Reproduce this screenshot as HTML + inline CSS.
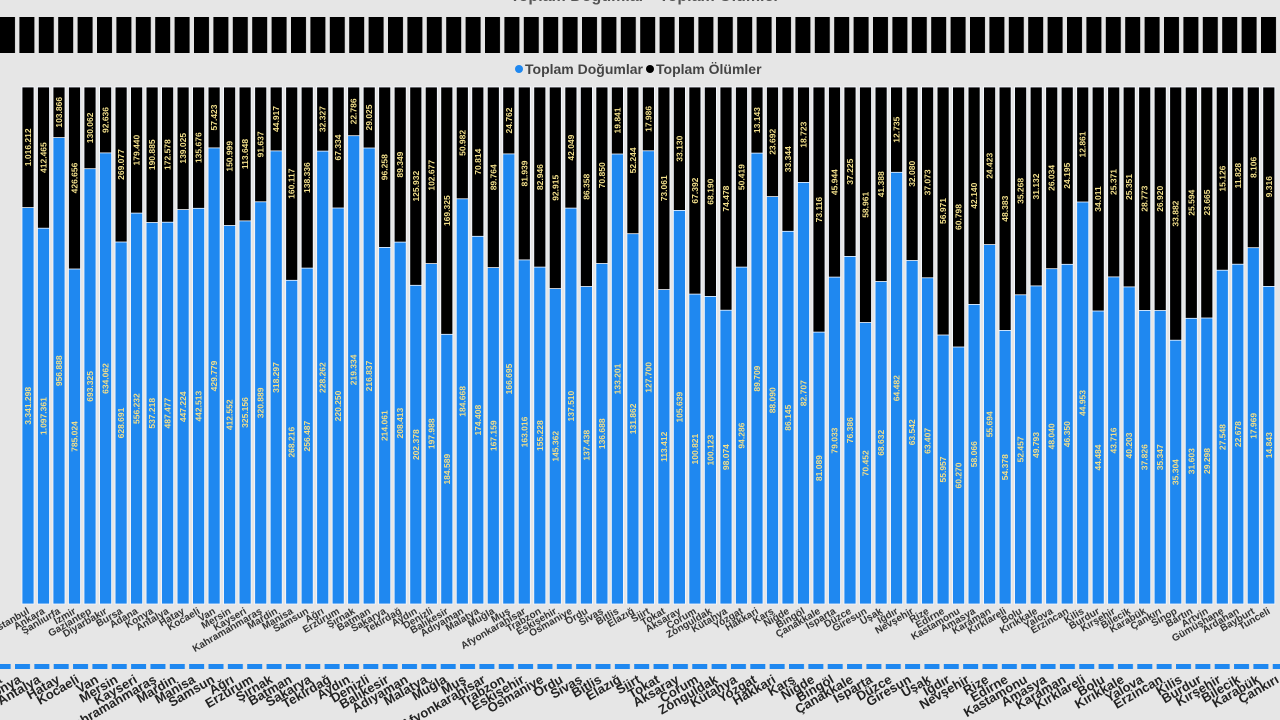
<!DOCTYPE html>
<html><head><meta charset="utf-8"><style>
html,body{margin:0;padding:0;background:#e6e6e6;width:1280px;height:720px;overflow:hidden}
svg{display:block;font-family:"Liberation Sans",sans-serif}
.bb{fill:#1f88f0;width:12px;height:517px;y:87px;stroke:#f4f8ff;stroke-width:.8}
.k{fill:#000;width:12px;y:87px;stroke:#f4f8ff;stroke-width:.8}
.v{fill:#f2df8a;font-size:8.5px;font-weight:bold;text-anchor:middle;dominant-baseline:central}
.x{fill:#333;font-size:10px;font-weight:bold;text-anchor:end}
.y{fill:#222;font-size:13px;font-weight:bold;text-anchor:end}
</style></head><body>
<svg width="1280" height="720" viewBox="0 0 1280 720">
<defs>
<pattern id="tp" patternUnits="userSpaceOnUse" x="0" y="0" width="19.4" height="720"><rect x="0" y="17" width="15" height="36" fill="#000"/></pattern>
<pattern id="bp" patternUnits="userSpaceOnUse" x="15" y="0" width="19.35" height="720"><rect x="0" y="664" width="15" height="5" fill="#1f88f0"/></pattern>
</defs>
<text x="640" y="1" text-anchor="middle" font-size="16" font-weight="bold" fill="#555"><tspan fill="#1f88f0">●</tspan>Toplam Doğumlar <tspan fill="#000">●</tspan>Toplam Ölümler</text>
<rect x="0" y="17" width="1280" height="36" fill="url(#tp)"/>
<rect x="0" y="664" width="1280" height="5" fill="url(#bp)"/>
<circle cx="519" cy="69" r="4" fill="#1f88f0"/>
<text x="525" y="74" font-size="14" font-weight="bold" fill="#444">Toplam Doğumlar</text>
<circle cx="650" cy="69" r="4" fill="#000"/>
<text x="656" y="74" font-size="14" font-weight="bold" fill="#444">Toplam Ölümler</text>

<g transform="translate(22,0)"><rect class="bb"/><rect class="k" height="120.6"/><text class="v" transform="translate(6,147.3)rotate(-90)">1.016.212</text><text class="v" transform="translate(6,405.8)rotate(-90)">3.341.298</text><text class="x" transform="translate(8,613)rotate(-30)">İstanbul</text></g>
<g transform="translate(37.5,0)"><rect class="bb"/><rect class="k" height="141.2"/><text class="v" transform="translate(6,157.6)rotate(-90)">412.465</text><text class="v" transform="translate(6,416.1)rotate(-90)">1.097.361</text><text class="x" transform="translate(8,613)rotate(-30)">Ankara</text></g>
<g transform="translate(53,0)"><rect class="bb"/><rect class="k" height="50.6"/><text class="v" transform="translate(6,112.3)rotate(-90)">103.866</text><text class="v" transform="translate(6,370.8)rotate(-90)">956.888</text><text class="x" transform="translate(8,613)rotate(-30)">Şanlıurfa</text></g>
<g transform="translate(68.5,0)"><rect class="bb"/><rect class="k" height="182"/><text class="v" transform="translate(6,178)rotate(-90)">426.656</text><text class="v" transform="translate(6,436.5)rotate(-90)">785.024</text><text class="x" transform="translate(8,613)rotate(-30)">İzmir</text></g>
<g transform="translate(84,0)"><rect class="bb"/><rect class="k" height="81.7"/><text class="v" transform="translate(6,127.9)rotate(-90)">130.062</text><text class="v" transform="translate(6,386.4)rotate(-90)">693.325</text><text class="x" transform="translate(8,613)rotate(-30)">Gaziantep</text></g>
<g transform="translate(99.6,0)"><rect class="bb"/><rect class="k" height="65.9"/><text class="v" transform="translate(6,120)rotate(-90)">92.636</text><text class="v" transform="translate(6,378.5)rotate(-90)">634.062</text><text class="x" transform="translate(8,613)rotate(-30)">Diyarbakır</text></g>
<g transform="translate(115.1,0)"><rect class="bb"/><rect class="k" height="155"/><text class="v" transform="translate(6,164.5)rotate(-90)">269.077</text><text class="v" transform="translate(6,423)rotate(-90)">628.691</text><text class="x" transform="translate(8,613)rotate(-30)">Bursa</text></g>
<g transform="translate(130.6,0)"><rect class="bb"/><rect class="k" height="126.1"/><text class="v" transform="translate(6,150.1)rotate(-90)">179.440</text><text class="v" transform="translate(6,408.6)rotate(-90)">556.232</text><text class="x" transform="translate(8,613)rotate(-30)">Adana</text></g>
<g transform="translate(146.1,0)"><rect class="bb"/><rect class="k" height="135.5"/><text class="v" transform="translate(6,154.8)rotate(-90)">190.885</text><text class="v" transform="translate(6,413.3)rotate(-90)">537.218</text><text class="x" transform="translate(8,613)rotate(-30)">Konya</text></g>
<g transform="translate(161.6,0)"><rect class="bb"/><rect class="k" height="135.2"/><text class="v" transform="translate(6,154.6)rotate(-90)">172.578</text><text class="v" transform="translate(6,413.1)rotate(-90)">487.477</text><text class="x" transform="translate(8,613)rotate(-30)">Antalya</text></g>
<g transform="translate(177.1,0)"><rect class="bb"/><rect class="k" height="122.6"/><text class="v" transform="translate(6,148.3)rotate(-90)">139.025</text><text class="v" transform="translate(6,406.8)rotate(-90)">447.224</text><text class="x" transform="translate(8,613)rotate(-30)">Hatay</text></g>
<g transform="translate(192.6,0)"><rect class="bb"/><rect class="k" height="121.3"/><text class="v" transform="translate(6,147.7)rotate(-90)">135.676</text><text class="v" transform="translate(6,406.2)rotate(-90)">442.513</text><text class="x" transform="translate(8,613)rotate(-30)">Kocaeli</text></g>
<g transform="translate(208.1,0)"><rect class="bb"/><rect class="k" height="60.9"/><text class="v" transform="translate(6,117.5)rotate(-90)">57.423</text><text class="v" transform="translate(6,376)rotate(-90)">429.779</text><text class="x" transform="translate(8,613)rotate(-30)">Van</text></g>
<g transform="translate(223.6,0)"><rect class="bb"/><rect class="k" height="138.5"/><text class="v" transform="translate(6,156.3)rotate(-90)">150.999</text><text class="v" transform="translate(6,414.8)rotate(-90)">412.552</text><text class="x" transform="translate(8,613)rotate(-30)">Mersin</text></g>
<g transform="translate(239.1,0)"><rect class="bb"/><rect class="k" height="133.9"/><text class="v" transform="translate(6,154)rotate(-90)">113.648</text><text class="v" transform="translate(6,412.5)rotate(-90)">325.156</text><text class="x" transform="translate(8,613)rotate(-30)">Kayseri</text></g>
<g transform="translate(254.7,0)"><rect class="bb"/><rect class="k" height="114.8"/><text class="v" transform="translate(6,144.4)rotate(-90)">91.637</text><text class="v" transform="translate(6,402.9)rotate(-90)">320.889</text><text class="x" transform="translate(8,613)rotate(-30)">Kahramanmaraş</text></g>
<g transform="translate(270.2,0)"><rect class="bb"/><rect class="k" height="63.9"/><text class="v" transform="translate(6,119)rotate(-90)">44.917</text><text class="v" transform="translate(6,377.5)rotate(-90)">318.297</text><text class="x" transform="translate(8,613)rotate(-30)">Mardin</text></g>
<g transform="translate(285.7,0)"><rect class="bb"/><rect class="k" height="193.3"/><text class="v" transform="translate(6,183.7)rotate(-90)">160.117</text><text class="v" transform="translate(6,442.2)rotate(-90)">268.216</text><text class="x" transform="translate(8,613)rotate(-30)">Manisa</text></g>
<g transform="translate(301.2,0)"><rect class="bb"/><rect class="k" height="181.1"/><text class="v" transform="translate(6,177.6)rotate(-90)">138.336</text><text class="v" transform="translate(6,436.1)rotate(-90)">256.487</text><text class="x" transform="translate(8,613)rotate(-30)">Samsun</text></g>
<g transform="translate(316.7,0)"><rect class="bb"/><rect class="k" height="64.1"/><text class="v" transform="translate(6,119.1)rotate(-90)">32.327</text><text class="v" transform="translate(6,377.6)rotate(-90)">228.262</text><text class="x" transform="translate(8,613)rotate(-30)">Ağrı</text></g>
<g transform="translate(332.2,0)"><rect class="bb"/><rect class="k" height="121"/><text class="v" transform="translate(6,147.5)rotate(-90)">67.334</text><text class="v" transform="translate(6,406)rotate(-90)">220.250</text><text class="x" transform="translate(8,613)rotate(-30)">Erzurum</text></g>
<g transform="translate(347.7,0)"><rect class="bb"/><rect class="k" height="48.7"/><text class="v" transform="translate(6,111.4)rotate(-90)">22.786</text><text class="v" transform="translate(6,369.9)rotate(-90)">219.334</text><text class="x" transform="translate(8,613)rotate(-30)">Şırnak</text></g>
<g transform="translate(363.2,0)"><rect class="bb"/><rect class="k" height="61"/><text class="v" transform="translate(6,117.5)rotate(-90)">29.025</text><text class="v" transform="translate(6,376)rotate(-90)">216.837</text><text class="x" transform="translate(8,613)rotate(-30)">Batman</text></g>
<g transform="translate(378.7,0)"><rect class="bb"/><rect class="k" height="160.4"/><text class="v" transform="translate(6,167.2)rotate(-90)">96.258</text><text class="v" transform="translate(6,425.7)rotate(-90)">214.061</text><text class="x" transform="translate(8,613)rotate(-30)">Sakarya</text></g>
<g transform="translate(394.2,0)"><rect class="bb"/><rect class="k" height="155.1"/><text class="v" transform="translate(6,164.6)rotate(-90)">89.349</text><text class="v" transform="translate(6,423.1)rotate(-90)">208.413</text><text class="x" transform="translate(8,613)rotate(-30)">Tekirdağ</text></g>
<g transform="translate(409.8,0)"><rect class="bb"/><rect class="k" height="198.3"/><text class="v" transform="translate(6,186.2)rotate(-90)">125.932</text><text class="v" transform="translate(6,444.7)rotate(-90)">202.378</text><text class="x" transform="translate(8,613)rotate(-30)">Aydın</text></g>
<g transform="translate(425.3,0)"><rect class="bb"/><rect class="k" height="176.6"/><text class="v" transform="translate(6,175.3)rotate(-90)">102.677</text><text class="v" transform="translate(6,433.8)rotate(-90)">197.988</text><text class="x" transform="translate(8,613)rotate(-30)">Denizli</text></g>
<g transform="translate(440.8,0)"><rect class="bb"/><rect class="k" height="247.3"/><text class="v" transform="translate(6,210.7)rotate(-90)">169.325</text><text class="v" transform="translate(6,469.2)rotate(-90)">184.589</text><text class="x" transform="translate(8,613)rotate(-30)">Balıkesir</text></g>
<g transform="translate(456.3,0)"><rect class="bb"/><rect class="k" height="111.8"/><text class="v" transform="translate(6,142.9)rotate(-90)">50.982</text><text class="v" transform="translate(6,401.4)rotate(-90)">184.668</text><text class="x" transform="translate(8,613)rotate(-30)">Adıyaman</text></g>
<g transform="translate(471.8,0)"><rect class="bb"/><rect class="k" height="149.3"/><text class="v" transform="translate(6,161.7)rotate(-90)">70.814</text><text class="v" transform="translate(6,420.2)rotate(-90)">174.408</text><text class="x" transform="translate(8,613)rotate(-30)">Malatya</text></g>
<g transform="translate(487.3,0)"><rect class="bb"/><rect class="k" height="180.6"/><text class="v" transform="translate(6,177.3)rotate(-90)">89.764</text><text class="v" transform="translate(6,435.8)rotate(-90)">167.159</text><text class="x" transform="translate(8,613)rotate(-30)">Muğla</text></g>
<g transform="translate(502.8,0)"><rect class="bb"/><rect class="k" height="66.9"/><text class="v" transform="translate(6,120.5)rotate(-90)">24.762</text><text class="v" transform="translate(6,379)rotate(-90)">166.695</text><text class="x" transform="translate(8,613)rotate(-30)">Muş</text></g>
<g transform="translate(518.3,0)"><rect class="bb"/><rect class="k" height="172.9"/><text class="v" transform="translate(6,173.5)rotate(-90)">81.939</text><text class="v" transform="translate(6,432)rotate(-90)">163.016</text><text class="x" transform="translate(8,613)rotate(-30)">Afyonkarahisar</text></g>
<g transform="translate(533.8,0)"><rect class="bb"/><rect class="k" height="180.1"/><text class="v" transform="translate(6,177.1)rotate(-90)">82.946</text><text class="v" transform="translate(6,435.6)rotate(-90)">155.228</text><text class="x" transform="translate(8,613)rotate(-30)">Trabzon</text></g>
<g transform="translate(549.3,0)"><rect class="bb"/><rect class="k" height="201.6"/><text class="v" transform="translate(6,187.8)rotate(-90)">92.915</text><text class="v" transform="translate(6,446.3)rotate(-90)">145.362</text><text class="x" transform="translate(8,613)rotate(-30)">Eskişehir</text></g>
<g transform="translate(564.9,0)"><rect class="bb"/><rect class="k" height="121.1"/><text class="v" transform="translate(6,147.6)rotate(-90)">42.049</text><text class="v" transform="translate(6,406.1)rotate(-90)">137.510</text><text class="x" transform="translate(8,613)rotate(-30)">Osmaniye</text></g>
<g transform="translate(580.4,0)"><rect class="bb"/><rect class="k" height="199.5"/><text class="v" transform="translate(6,186.8)rotate(-90)">86.358</text><text class="v" transform="translate(6,445.3)rotate(-90)">137.438</text><text class="x" transform="translate(8,613)rotate(-30)">Ordu</text></g>
<g transform="translate(595.9,0)"><rect class="bb"/><rect class="k" height="176.5"/><text class="v" transform="translate(6,175.3)rotate(-90)">70.850</text><text class="v" transform="translate(6,433.8)rotate(-90)">136.688</text><text class="x" transform="translate(8,613)rotate(-30)">Sivas</text></g>
<g transform="translate(611.4,0)"><rect class="bb"/><rect class="k" height="67"/><text class="v" transform="translate(6,120.5)rotate(-90)">19.841</text><text class="v" transform="translate(6,379)rotate(-90)">133.201</text><text class="x" transform="translate(8,613)rotate(-30)">Bitlis</text></g>
<g transform="translate(626.9,0)"><rect class="bb"/><rect class="k" height="146.7"/><text class="v" transform="translate(6,160.4)rotate(-90)">52.244</text><text class="v" transform="translate(6,418.9)rotate(-90)">131.862</text><text class="x" transform="translate(8,613)rotate(-30)">Elazığ</text></g>
<g transform="translate(642.4,0)"><rect class="bb"/><rect class="k" height="63.8"/><text class="v" transform="translate(6,118.9)rotate(-90)">17.986</text><text class="v" transform="translate(6,377.4)rotate(-90)">127.700</text><text class="x" transform="translate(8,613)rotate(-30)">Siirt</text></g>
<g transform="translate(657.9,0)"><rect class="bb"/><rect class="k" height="202.6"/><text class="v" transform="translate(6,188.3)rotate(-90)">73.061</text><text class="v" transform="translate(6,446.8)rotate(-90)">113.412</text><text class="x" transform="translate(8,613)rotate(-30)">Tokat</text></g>
<g transform="translate(673.4,0)"><rect class="bb"/><rect class="k" height="123.4"/><text class="v" transform="translate(6,148.7)rotate(-90)">33.130</text><text class="v" transform="translate(6,407.2)rotate(-90)">105.639</text><text class="x" transform="translate(8,613)rotate(-30)">Aksaray</text></g>
<g transform="translate(688.9,0)"><rect class="bb"/><rect class="k" height="207.1"/><text class="v" transform="translate(6,190.6)rotate(-90)">67.392</text><text class="v" transform="translate(6,449.1)rotate(-90)">100.821</text><text class="x" transform="translate(8,613)rotate(-30)">Çorum</text></g>
<g transform="translate(704.4,0)"><rect class="bb"/><rect class="k" height="209.4"/><text class="v" transform="translate(6,191.7)rotate(-90)">68.190</text><text class="v" transform="translate(6,450.2)rotate(-90)">100.123</text><text class="x" transform="translate(8,613)rotate(-30)">Zonguldak</text></g>
<g transform="translate(720,0)"><rect class="bb"/><rect class="k" height="223.2"/><text class="v" transform="translate(6,198.6)rotate(-90)">74.478</text><text class="v" transform="translate(6,457.1)rotate(-90)">98.074</text><text class="x" transform="translate(8,613)rotate(-30)">Kütahya</text></g>
<g transform="translate(735.5,0)"><rect class="bb"/><rect class="k" height="180.1"/><text class="v" transform="translate(6,177.1)rotate(-90)">50.419</text><text class="v" transform="translate(6,435.6)rotate(-90)">94.286</text><text class="x" transform="translate(8,613)rotate(-30)">Yozgat</text></g>
<g transform="translate(751,0)"><rect class="bb"/><rect class="k" height="66.1"/><text class="v" transform="translate(6,120.1)rotate(-90)">13.143</text><text class="v" transform="translate(6,378.6)rotate(-90)">89.709</text><text class="x" transform="translate(8,613)rotate(-30)">Hakkari</text></g>
<g transform="translate(766.5,0)"><rect class="bb"/><rect class="k" height="109.6"/><text class="v" transform="translate(6,141.8)rotate(-90)">23.692</text><text class="v" transform="translate(6,400.3)rotate(-90)">88.090</text><text class="x" transform="translate(8,613)rotate(-30)">Kars</text></g>
<g transform="translate(782,0)"><rect class="bb"/><rect class="k" height="144.3"/><text class="v" transform="translate(6,159.2)rotate(-90)">33.344</text><text class="v" transform="translate(6,417.7)rotate(-90)">86.145</text><text class="x" transform="translate(8,613)rotate(-30)">Niğde</text></g>
<g transform="translate(797.5,0)"><rect class="bb"/><rect class="k" height="95.4"/><text class="v" transform="translate(6,134.7)rotate(-90)">18.723</text><text class="v" transform="translate(6,393.2)rotate(-90)">82.707</text><text class="x" transform="translate(8,613)rotate(-30)">Bingöl</text></g>
<g transform="translate(813,0)"><rect class="bb"/><rect class="k" height="245.1"/><text class="v" transform="translate(6,209.6)rotate(-90)">73.116</text><text class="v" transform="translate(6,468.1)rotate(-90)">81.089</text><text class="x" transform="translate(8,613)rotate(-30)">Çanakkale</text></g>
<g transform="translate(828.5,0)"><rect class="bb"/><rect class="k" height="190.1"/><text class="v" transform="translate(6,182.1)rotate(-90)">45.944</text><text class="v" transform="translate(6,440.6)rotate(-90)">79.033</text><text class="x" transform="translate(8,613)rotate(-30)">Isparta</text></g>
<g transform="translate(844,0)"><rect class="bb"/><rect class="k" height="169.4"/><text class="v" transform="translate(6,171.7)rotate(-90)">37.225</text><text class="v" transform="translate(6,430.2)rotate(-90)">76.386</text><text class="x" transform="translate(8,613)rotate(-30)">Düzce</text></g>
<g transform="translate(859.5,0)"><rect class="bb"/><rect class="k" height="235.5"/><text class="v" transform="translate(6,204.8)rotate(-90)">58.961</text><text class="v" transform="translate(6,463.3)rotate(-90)">70.452</text><text class="x" transform="translate(8,613)rotate(-30)">Giresun</text></g>
<g transform="translate(875.1,0)"><rect class="bb"/><rect class="k" height="194.5"/><text class="v" transform="translate(6,184.3)rotate(-90)">41.388</text><text class="v" transform="translate(6,442.8)rotate(-90)">68.632</text><text class="x" transform="translate(8,613)rotate(-30)">Uşak</text></g>
<g transform="translate(890.6,0)"><rect class="bb"/><rect class="k" height="85.3"/><text class="v" transform="translate(6,129.7)rotate(-90)">12.735</text><text class="v" transform="translate(6,388.2)rotate(-90)">64.482</text><text class="x" transform="translate(8,613)rotate(-30)">Iğdır</text></g>
<g transform="translate(906.1,0)"><rect class="bb"/><rect class="k" height="173.5"/><text class="v" transform="translate(6,173.8)rotate(-90)">32.080</text><text class="v" transform="translate(6,432.3)rotate(-90)">63.542</text><text class="x" transform="translate(8,613)rotate(-30)">Nevşehir</text></g>
<g transform="translate(921.6,0)"><rect class="bb"/><rect class="k" height="190.8"/><text class="v" transform="translate(6,182.4)rotate(-90)">37.073</text><text class="v" transform="translate(6,440.9)rotate(-90)">63.407</text><text class="x" transform="translate(8,613)rotate(-30)">Rize</text></g>
<g transform="translate(937.1,0)"><rect class="bb"/><rect class="k" height="248"/><text class="v" transform="translate(6,211)rotate(-90)">56.971</text><text class="v" transform="translate(6,469.5)rotate(-90)">55.957</text><text class="x" transform="translate(8,613)rotate(-30)">Edirne</text></g>
<g transform="translate(952.6,0)"><rect class="bb"/><rect class="k" height="260"/><text class="v" transform="translate(6,217)rotate(-90)">60.798</text><text class="v" transform="translate(6,475.5)rotate(-90)">60.270</text><text class="x" transform="translate(8,613)rotate(-30)">Kastamonu</text></g>
<g transform="translate(968.1,0)"><rect class="bb"/><rect class="k" height="217.4"/><text class="v" transform="translate(6,195.7)rotate(-90)">42.140</text><text class="v" transform="translate(6,454.2)rotate(-90)">58.066</text><text class="x" transform="translate(8,613)rotate(-30)">Amasya</text></g>
<g transform="translate(983.6,0)"><rect class="bb"/><rect class="k" height="157.6"/><text class="v" transform="translate(6,165.8)rotate(-90)">24.423</text><text class="v" transform="translate(6,424.3)rotate(-90)">55.694</text><text class="x" transform="translate(8,613)rotate(-30)">Karaman</text></g>
<g transform="translate(999.1,0)"><rect class="bb"/><rect class="k" height="243.4"/><text class="v" transform="translate(6,208.7)rotate(-90)">48.383</text><text class="v" transform="translate(6,467.2)rotate(-90)">54.378</text><text class="x" transform="translate(8,613)rotate(-30)">Kırklareli</text></g>
<g transform="translate(1014.6,0)"><rect class="bb"/><rect class="k" height="207.8"/><text class="v" transform="translate(6,190.9)rotate(-90)">35.268</text><text class="v" transform="translate(6,449.4)rotate(-90)">52.457</text><text class="x" transform="translate(8,613)rotate(-30)">Bolu</text></g>
<g transform="translate(1030.2,0)"><rect class="bb"/><rect class="k" height="198.9"/><text class="v" transform="translate(6,186.5)rotate(-90)">31.132</text><text class="v" transform="translate(6,445)rotate(-90)">49.793</text><text class="x" transform="translate(8,613)rotate(-30)">Kırıkkale</text></g>
<g transform="translate(1045.7,0)"><rect class="bb"/><rect class="k" height="181.7"/><text class="v" transform="translate(6,177.9)rotate(-90)">26.034</text><text class="v" transform="translate(6,436.4)rotate(-90)">48.040</text><text class="x" transform="translate(8,613)rotate(-30)">Yalova</text></g>
<g transform="translate(1061.2,0)"><rect class="bb"/><rect class="k" height="177.3"/><text class="v" transform="translate(6,175.7)rotate(-90)">24.195</text><text class="v" transform="translate(6,434.2)rotate(-90)">46.350</text><text class="x" transform="translate(8,613)rotate(-30)">Erzincan</text></g>
<g transform="translate(1076.7,0)"><rect class="bb"/><rect class="k" height="115"/><text class="v" transform="translate(6,144.5)rotate(-90)">12.861</text><text class="v" transform="translate(6,403)rotate(-90)">44.953</text><text class="x" transform="translate(8,613)rotate(-30)">Kilis</text></g>
<g transform="translate(1092.2,0)"><rect class="bb"/><rect class="k" height="224"/><text class="v" transform="translate(6,199)rotate(-90)">34.011</text><text class="v" transform="translate(6,457.5)rotate(-90)">44.484</text><text class="x" transform="translate(8,613)rotate(-30)">Burdur</text></g>
<g transform="translate(1107.7,0)"><rect class="bb"/><rect class="k" height="189.9"/><text class="v" transform="translate(6,182)rotate(-90)">25.371</text><text class="v" transform="translate(6,440.5)rotate(-90)">43.716</text><text class="x" transform="translate(8,613)rotate(-30)">Kırşehir</text></g>
<g transform="translate(1123.2,0)"><rect class="bb"/><rect class="k" height="199.9"/><text class="v" transform="translate(6,187)rotate(-90)">25.351</text><text class="v" transform="translate(6,445.5)rotate(-90)">40.203</text><text class="x" transform="translate(8,613)rotate(-30)">Bilecik</text></g>
<g transform="translate(1138.7,0)"><rect class="bb"/><rect class="k" height="223.4"/><text class="v" transform="translate(6,198.7)rotate(-90)">28.773</text><text class="v" transform="translate(6,457.2)rotate(-90)">37.826</text><text class="x" transform="translate(8,613)rotate(-30)">Karabük</text></g>
<g transform="translate(1154.2,0)"><rect class="bb"/><rect class="k" height="223.5"/><text class="v" transform="translate(6,198.8)rotate(-90)">26.920</text><text class="v" transform="translate(6,457.3)rotate(-90)">35.347</text><text class="x" transform="translate(8,613)rotate(-30)">Çankırı</text></g>
<g transform="translate(1169.7,0)"><rect class="bb"/><rect class="k" height="253.2"/><text class="v" transform="translate(6,213.6)rotate(-90)">33.882</text><text class="v" transform="translate(6,472.1)rotate(-90)">35.304</text><text class="x" transform="translate(8,613)rotate(-30)">Sinop</text></g>
<g transform="translate(1185.3,0)"><rect class="bb"/><rect class="k" height="231.3"/><text class="v" transform="translate(6,202.7)rotate(-90)">25.594</text><text class="v" transform="translate(6,461.2)rotate(-90)">31.603</text><text class="x" transform="translate(8,613)rotate(-30)">Bartın</text></g>
<g transform="translate(1200.8,0)"><rect class="bb"/><rect class="k" height="231"/><text class="v" transform="translate(6,202.5)rotate(-90)">23.665</text><text class="v" transform="translate(6,461)rotate(-90)">29.298</text><text class="x" transform="translate(8,613)rotate(-30)">Artvin</text></g>
<g transform="translate(1216.3,0)"><rect class="bb"/><rect class="k" height="183.2"/><text class="v" transform="translate(6,178.6)rotate(-90)">15.126</text><text class="v" transform="translate(6,437.1)rotate(-90)">27.548</text><text class="x" transform="translate(8,613)rotate(-30)">Gümüşhane</text></g>
<g transform="translate(1231.8,0)"><rect class="bb"/><rect class="k" height="177.2"/><text class="v" transform="translate(6,175.6)rotate(-90)">11.828</text><text class="v" transform="translate(6,434.1)rotate(-90)">22.678</text><text class="x" transform="translate(8,613)rotate(-30)">Ardahan</text></g>
<g transform="translate(1247.3,0)"><rect class="bb"/><rect class="k" height="160.7"/><text class="v" transform="translate(6,167.4)rotate(-90)">8.106</text><text class="v" transform="translate(6,425.9)rotate(-90)">17.969</text><text class="x" transform="translate(8,613)rotate(-30)">Bayburt</text></g>
<g transform="translate(1262.8,0)"><rect class="bb"/><rect class="k" height="199.4"/><text class="v" transform="translate(6,186.7)rotate(-90)">9.316</text><text class="v" transform="translate(6,445.2)rotate(-90)">14.843</text><text class="x" transform="translate(8,613)rotate(-30)">Tunceli</text></g>

<g>
<text class="y" transform="translate(2.65,682)rotate(-30)">Adana</text>
<text class="y" transform="translate(22,682)rotate(-30)">Konya</text>
<text class="y" transform="translate(41.35,682)rotate(-30)">Antalya</text>
<text class="y" transform="translate(60.7,682)rotate(-30)">Hatay</text>
<text class="y" transform="translate(80.05,682)rotate(-30)">Kocaeli</text>
<text class="y" transform="translate(99.4,682)rotate(-30)">Van</text>
<text class="y" transform="translate(118.75,682)rotate(-30)">Mersin</text>
<text class="y" transform="translate(138.1,682)rotate(-30)">Kayseri</text>
<text class="y" transform="translate(157.45,682)rotate(-30)">Kahramanmaraş</text>
<text class="y" transform="translate(176.8,682)rotate(-30)">Mardin</text>
<text class="y" transform="translate(196.15,682)rotate(-30)">Manisa</text>
<text class="y" transform="translate(215.5,682)rotate(-30)">Samsun</text>
<text class="y" transform="translate(234.85,682)rotate(-30)">Ağrı</text>
<text class="y" transform="translate(254.2,682)rotate(-30)">Erzurum</text>
<text class="y" transform="translate(273.55,682)rotate(-30)">Şırnak</text>
<text class="y" transform="translate(292.9,682)rotate(-30)">Batman</text>
<text class="y" transform="translate(312.25,682)rotate(-30)">Sakarya</text>
<text class="y" transform="translate(331.6,682)rotate(-30)">Tekirdağ</text>
<text class="y" transform="translate(350.95,682)rotate(-30)">Aydın</text>
<text class="y" transform="translate(370.3,682)rotate(-30)">Denizli</text>
<text class="y" transform="translate(389.65,682)rotate(-30)">Balıkesir</text>
<text class="y" transform="translate(409,682)rotate(-30)">Adıyaman</text>
<text class="y" transform="translate(428.35,682)rotate(-30)">Malatya</text>
<text class="y" transform="translate(447.7,682)rotate(-30)">Muğla</text>
<text class="y" transform="translate(467.05,682)rotate(-30)">Muş</text>
<text class="y" transform="translate(486.4,682)rotate(-30)">Afyonkarahisar</text>
<text class="y" transform="translate(505.75,682)rotate(-30)">Trabzon</text>
<text class="y" transform="translate(525.1,682)rotate(-30)">Eskişehir</text>
<text class="y" transform="translate(544.45,682)rotate(-30)">Osmaniye</text>
<text class="y" transform="translate(563.8,682)rotate(-30)">Ordu</text>
<text class="y" transform="translate(583.15,682)rotate(-30)">Sivas</text>
<text class="y" transform="translate(602.5,682)rotate(-30)">Bitlis</text>
<text class="y" transform="translate(621.85,682)rotate(-30)">Elazığ</text>
<text class="y" transform="translate(641.2,682)rotate(-30)">Siirt</text>
<text class="y" transform="translate(660.55,682)rotate(-30)">Tokat</text>
<text class="y" transform="translate(679.9,682)rotate(-30)">Aksaray</text>
<text class="y" transform="translate(699.25,682)rotate(-30)">Çorum</text>
<text class="y" transform="translate(718.6,682)rotate(-30)">Zonguldak</text>
<text class="y" transform="translate(737.95,682)rotate(-30)">Kütahya</text>
<text class="y" transform="translate(757.3,682)rotate(-30)">Yozgat</text>
<text class="y" transform="translate(776.65,682)rotate(-30)">Hakkari</text>
<text class="y" transform="translate(796,682)rotate(-30)">Kars</text>
<text class="y" transform="translate(815.35,682)rotate(-30)">Niğde</text>
<text class="y" transform="translate(834.7,682)rotate(-30)">Bingöl</text>
<text class="y" transform="translate(854.05,682)rotate(-30)">Çanakkale</text>
<text class="y" transform="translate(873.4,682)rotate(-30)">Isparta</text>
<text class="y" transform="translate(892.75,682)rotate(-30)">Düzce</text>
<text class="y" transform="translate(912.1,682)rotate(-30)">Giresun</text>
<text class="y" transform="translate(931.45,682)rotate(-30)">Uşak</text>
<text class="y" transform="translate(950.8,682)rotate(-30)">Iğdır</text>
<text class="y" transform="translate(970.15,682)rotate(-30)">Nevşehir</text>
<text class="y" transform="translate(989.5,682)rotate(-30)">Rize</text>
<text class="y" transform="translate(1008.85,682)rotate(-30)">Edirne</text>
<text class="y" transform="translate(1028.2,682)rotate(-30)">Kastamonu</text>
<text class="y" transform="translate(1047.55,682)rotate(-30)">Amasya</text>
<text class="y" transform="translate(1066.9,682)rotate(-30)">Karaman</text>
<text class="y" transform="translate(1086.25,682)rotate(-30)">Kırklareli</text>
<text class="y" transform="translate(1105.6,682)rotate(-30)">Bolu</text>
<text class="y" transform="translate(1124.95,682)rotate(-30)">Kırıkkale</text>
<text class="y" transform="translate(1144.3,682)rotate(-30)">Yalova</text>
<text class="y" transform="translate(1163.65,682)rotate(-30)">Erzincan</text>
<text class="y" transform="translate(1183,682)rotate(-30)">Kilis</text>
<text class="y" transform="translate(1202.35,682)rotate(-30)">Burdur</text>
<text class="y" transform="translate(1221.7,682)rotate(-30)">Kırşehir</text>
<text class="y" transform="translate(1241.05,682)rotate(-30)">Bilecik</text>
<text class="y" transform="translate(1260.4,682)rotate(-30)">Karabük</text>
<text class="y" transform="translate(1279.75,682)rotate(-30)">Çankırı</text>
</g>
</svg>
</body></html>
